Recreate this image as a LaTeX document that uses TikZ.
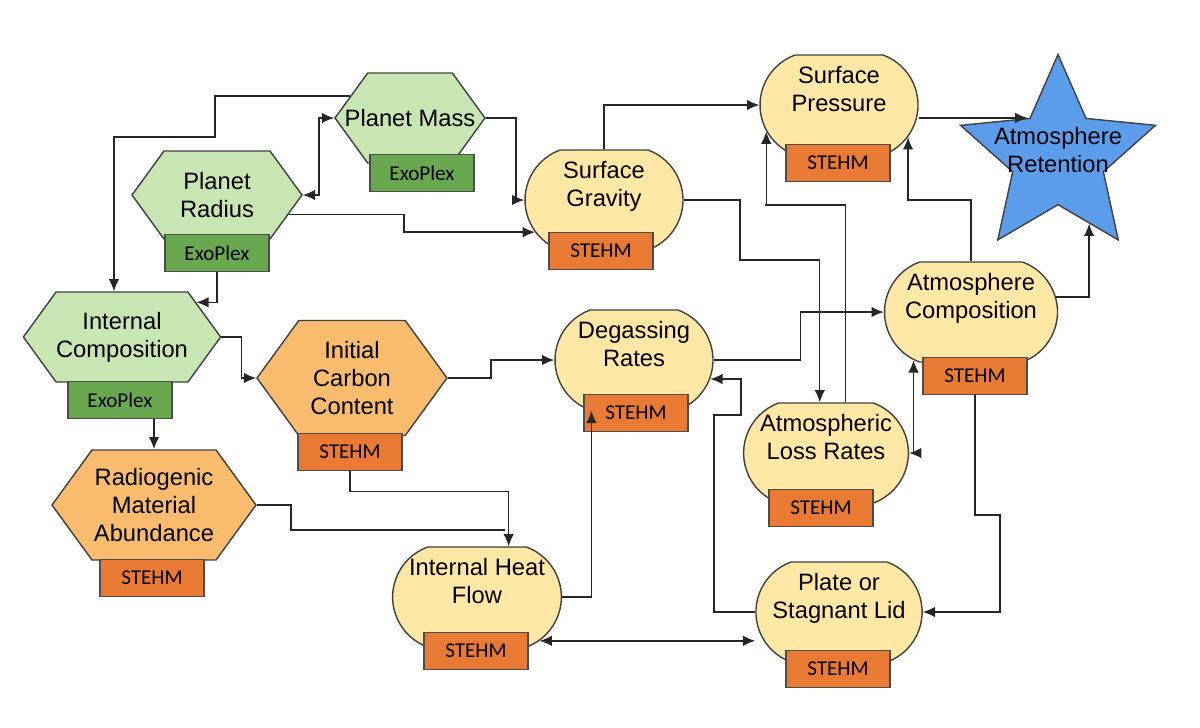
\documentclass[tikz,border=0pt]{standalone}
\usepackage{fontspec}
\setmainfont{Liberation Sans}
\newfontfamily\boxfont{Carlito}
\usetikzlibrary{shapes.geometric, shapes.misc, shapes.symbols, arrows.meta}

\definecolor{hexgreen}{RGB}{200,229,180}
\definecolor{boxgreen}{RGB}{106,168,79}
\definecolor{hexorange}{RGB}{249,188,110}
\definecolor{boxorange}{RGB}{232,122,52}
\definecolor{roundyellow}{RGB}{255,231,165}
\definecolor{starblue}{RGB}{92,157,235}

\tikzset{
  hexa/.style = {signal, signal to=west and east, signal pointer angle=108, draw=black!75, thick,
    inner sep=0pt, align=center, font=\fontsize{13.5}{16}\selectfont},
  soft/.style = {rounded rectangle, rounded rectangle arc length=140, draw=black!75, thick, fill=roundyellow,
    minimum width=3.16cm, minimum height=2.0cm, inner sep=0pt, align=center, font=\fontsize{13.5}{16}\selectfont},
  tool/.style = {draw=black!70, thick, minimum width=2.08cm, minimum height=0.74cm, inner sep=0pt,
    font=\boxfont\fontsize{12}{14}\selectfont},
  exo/.style = {tool, fill=boxgreen},
  stehm/.style = {tool, fill=boxorange},
  arr/.style = {thick, black!85, -{Latex[length=7pt, width=6pt]}},
  arr2/.style = {thick, black!85, {Latex[length=7pt, width=6pt]}-{Latex[length=7pt, width=6pt]}}
}

\begin{document}
\begin{tikzpicture}
\useasboundingbox (0,0) rectangle (24,-14.54);

% green inputs
\node[hexa, fill=hexgreen, minimum width=3.0cm, minimum height=1.8cm] (mass) at (8.2,-2.36) {};
\node[font=\fontsize{13.5}{16}\selectfont] (massT) at (8.2,-2.36) {Planet Mass};
\node[hexa, fill=hexgreen, minimum width=3.4cm, minimum height=1.76cm] (radius) at (4.34,-3.9) {Planet\\Radius};
\node[hexa, fill=hexgreen, minimum width=3.42cm, minimum height=1.8cm] (comp) at (2.44,-6.74) {Internal\\Composition};
% orange inputs
\node[hexa, fill=hexorange, minimum width=3.8cm, minimum height=2.3cm] (carbon) at (7.04,-7.56) {Initial\\Carbon\\Content};
\node[hexa, fill=hexorange, minimum width=4.08cm, minimum height=2.2cm] (radio) at (3.08,-10.1) {Radiogenic\\Material\\Abundance};

% model outputs
\node[soft] (grav) at (12.08,-4.0) {Surface\\Gravity\\[0.15em]};
\node[soft] (press) at (16.78,-2.1) {Surface\\Pressure\\[0.15em]};
\node[soft, minimum width=3.46cm] (atmc) at (19.42,-6.24) {Atmosphere\\Composition\\[0.15em]};
\node[soft] (degas) at (12.68,-7.2) {Degassing\\Rates\\[0.15em]};
\node[soft] (loss) at (16.52,-9.06) {Atmospheric\\Loss Rates\\[0.15em]};
\node[soft] (heat) at (9.54,-11.94) {Internal Heat\\Flow\\[0.15em]};
\node[soft] (plate) at (16.78,-12.24) {Plate or\\Stagnant Lid\\[0.15em]};

\node[star, star points=5, star point ratio=2.15, minimum size=4.1cm, draw=black!75, thick, fill=starblue,
  inner sep=0pt] (star) at (21.16,-3.14) {};
\node[align=center, font=\fontsize{13.5}{16}\selectfont] (starT) at (21.16,-3.0) {Atmosphere\\Retention};

% tool boxes
\node[exo] (massX) at (8.44,-3.46) {ExoPlex};
\node[exo] (radiusX) at (4.34,-5.06) {ExoPlex};
\node[exo] (compX) at (2.4,-8.0) {ExoPlex};
\node[stehm] (carbonX) at (7.0,-9.04) {STEHM};
\node[stehm] (radioX) at (3.04,-11.56) {STEHM};
\node[stehm] (gravX) at (12.02,-5.02) {STEHM};
\node[stehm] (pressX) at (16.76,-3.26) {STEHM};
\node[stehm] (atmcX) at (19.5,-7.52) {STEHM};
\node[stehm] (degasX) at (12.72,-8.26) {STEHM};
\node[stehm] (lossX) at (16.42,-10.16) {STEHM};
\node[stehm] (heatX) at (9.52,-13.02) {STEHM};
\node[stehm] (plateX) at (16.76,-13.38) {STEHM};

% connectors
\draw[arr] (mass.160) -| (4.3,-2.74) -| (comp.100);
\draw[arr2] (radius.east) -- ++(0.32,0) |- (mass.west);
\draw[arr] (mass.east) -- ++(0.6,0) |- (grav.west);
\draw[arr] (radius.-15) -- ++(2.3,0) |- (grav.205);
\draw[arr] (radiusX.south) |- (comp.25);
\draw[arr] (comp.east) -- ++(0.4,0) |- (carbon.west);
\draw[arr] (radio.north |- compX.south) -- (radio.north);
\draw[arr] (carbon.east) -- ++(0.86,0) |- (degas.west);
\draw[arr] (carbonX.south) -- ++(0,-0.4) -| (heat.58);
\draw[thick, black!85] (radio.east) -- ++(0.68,0) |- (10.1,-10.6);
\draw[arr] (heat.east) -| (degas.230);
\draw[arr2] (heat.-35) -- (heat.-35 -| plate.west);
\draw[arr] (plate.west) -| (14.28,-8.3) -- (14.82,-8.3) |- (degas.-14);
\draw[arr] (degas.east) -- ++(1.74,0) |- (atmc.west);
\draw[arr] (grav.north) |- (press.west);
\draw[arr] (grav.east) -| (14.8,-5.2) -| (loss.97);
\draw[arr] (loss.69) |- (15.3,-4.1) -| (press.200);
\draw[arr2] (loss.east) -| (atmc.220);
\draw[arr] (atmc.north) |- (18.36,-4.0) -| (press.-25);
\draw[arr] (atmc.10) -| (star.-65);
\draw[arr] (press.east |- star.128) -- (star.128);
\draw[arr] (atmcX.south) |- (20.0,-10.3) |- (plate.east);
\end{tikzpicture}
\end{document}
